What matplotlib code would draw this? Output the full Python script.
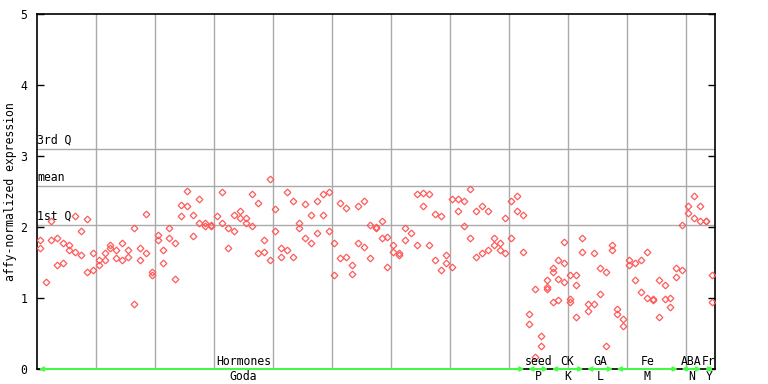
import matplotlib
matplotlib.use("Agg")
import matplotlib.pyplot as plt
import numpy as np

# ---- data ----
sample_index = list(range(115))
values_a = [1.81, 1.23, 2.08, 1.84, 1.77, 1.74, 2.15, 1.94, 2.11, 1.63,
            1.53, 1.63, 1.75, 1.68, 1.77, 1.67, 1.98, 1.71, 2.19, 1.36,
            1.89, 1.67, 1.98, 1.77, 2.31, 2.51, 2.17, 2.40, 2.06, 2.03,
            2.16, 2.50, 1.99, 2.17, 2.23, 2.13, 2.46, 2.34, 1.81, 2.67,
            2.26, 1.70, 2.50, 2.36, 2.05, 2.33, 2.17, 2.36, 2.46, 2.50,
            1.78, 2.34, 2.27, 1.47, 2.30, 2.36, 2.03, 2.00, 2.09, 1.86,
            1.75, 1.63, 1.99, 1.91, 2.47, 2.48, 2.46, 2.19, 2.16, 1.61,
            2.40, 2.40, 2.36, 2.54, 2.23, 2.29, 2.23, 1.85, 1.78, 2.13,
            2.36, 2.44, 2.17, 0.78, 1.13, 0.47, 1.25, 1.42, 1.54, 1.79,
            1.32, 1.33, 1.85, 0.92, 1.63, 1.42, 1.36, 1.74, 0.85, 0.71,
            1.54, 1.49, 1.54, 1.65, 0.99, 1.26, 1.19, 1.00, 1.42, 2.03,
            2.29, 2.43, 2.30, 2.09, 1.32]
values_b = [1.71, None, 1.82, 1.46, 1.49, 1.67, 1.65, 1.60, 1.36, 1.40,
            1.47, 1.54, 1.70, 1.57, 1.54, 1.58, 0.92, 1.54, 1.64, 1.33,
            1.82, 1.50, 1.85, 1.27, 2.16, 2.29, 1.88, 2.06, 2.01, 2.01,
            None, 2.05, 1.70, 1.95, 2.13, 2.05, 2.02, 1.64, 1.65, 1.53,
            1.95, 1.58, 1.67, 1.58, 1.99, 1.85, 1.77, 1.92, 2.17, 1.95,
            1.33, 1.57, 1.58, 1.34, 1.78, 1.72, 1.56, 1.99, 1.84, 1.43,
            1.65, 1.60, 1.81, None, 1.75, 2.29, 1.75, 1.53, 1.40, 1.50,
            1.44, 2.23, 2.01, 1.85, 1.58, 1.63, 1.68, 1.75, 1.67, 1.64,
            1.85, 2.22, 1.65, 0.63, 0.17, 0.33, 1.16, 1.36, 1.27, 1.49,
            0.99, 1.19, 1.65, 0.82, 0.92, 1.05, 0.33, 1.67, 0.77, 0.61,
            1.47, 1.26, 1.08, 1.00, 0.97, 0.73, 0.98, 0.88, 1.29, 1.40,
            2.20, 2.12, 2.08, 2.08, 0.95]
values_c = {86: 1.13, 87: 0.94, 88: 0.97, 89: 1.23, 90: 0.94, 91: 0.73}

stat_names = ["3rd Q", "mean", "1st Q"]
stat_values = [3.10, 2.58, 2.03]

group_top = ["Hormones", "seed", "CK", "GA", "Fe", "ABA", "Fr"]
group_bottom = ["Goda", "P", "K", "L", "M", "N", "Y"]
group_start = [0, 83, 87, 93, 98, 109, 113]
group_end = [83, 87, 93, 98, 109, 113, 115]

# ---- layout ----
W, H = 768, 384
fig = plt.figure(figsize=(W / 100, H / 100), dpi=100)
L, R, T, B = 37, 715, 14, 369
ax = fig.add_axes([L / W, 1 - B / H, (R - L) / W, (B - T) / H])
mono = "DejaVu Sans Mono"
fs = 8.3

ax.set_xlim(0, 115)
ax.set_ylim(0, 5)

grid_c = "#aaaaaa"
for gx in range(10, 115, 10):
    ax.axvline(gx, color=grid_c, lw=1, zorder=1)
for name, v in zip(stat_names, stat_values):
    ax.axhline(v, color=grid_c, lw=1, zorder=1)
    ax.text(0.0, v + 0.03, name, fontsize=fs, family=mono, ha="left",
            va="bottom", color="black")

red = "#ff5a5a"
xs = np.array(sample_index) + 0.45
ax.plot(xs, [np.nan if v is None else v for v in values_a], ls="none",
        marker="D", ms=3.4, mfc="none", mec=red, mew=0.9, zorder=3)
ax.plot(xs, [np.nan if v is None else v for v in values_b], ls="none",
        marker="D", ms=3.4, mfc="none", mec=red, mew=0.9, zorder=3)
ax.plot(np.array(list(values_c.keys())) + 0.45, list(values_c.values()),
        ls="none", marker="D", ms=3.4, mfc="none", mec=red, mew=0.9, zorder=3)

for s in ax.spines.values():
    s.set_color("black")
    s.set_linewidth(1.2)

ax.set_xticks([])
ax.set_yticks([0, 1, 2, 3, 4, 5])
ax.set_yticklabels(["0", "1", "2", "3", "4", "5"], family=mono, fontsize=fs)
ax.tick_params(axis="y", direction="in", length=5, width=1, pad=7,
               right=True, left=True, color="black")

ax.set_ylabel("affy-normalized expression", family=mono, fontsize=fs)
ax.yaxis.set_label_coords(-0.0398, 0.5)
ax.yaxis.label.set_va("center")

green = "#44ff44"
trans = ax.get_xaxis_transform()
for top, bot, s0, s1 in zip(group_top, group_bottom, group_start, group_end):
    ax.annotate("", xy=(s1 - 0.3, 0.0), xytext=(s0 + 0.3, 0.0),
                xycoords=trans, textcoords=trans,
                arrowprops=dict(arrowstyle="<|-|>", color=green, lw=1.4,
                                mutation_scale=6, shrinkA=0, shrinkB=0),
                annotation_clip=False, zorder=4)
    cx = (s0 + s1) / 2 if top != "Hormones" else 35
    ax.text(cx, 0.004, top, transform=trans, fontsize=fs, family=mono,
            ha="center", va="bottom")
    ax.text(cx, -0.031, bot, transform=trans, fontsize=fs, family=mono,
            ha="center", va="baseline")

fig.savefig("out.png", dpi=100)
